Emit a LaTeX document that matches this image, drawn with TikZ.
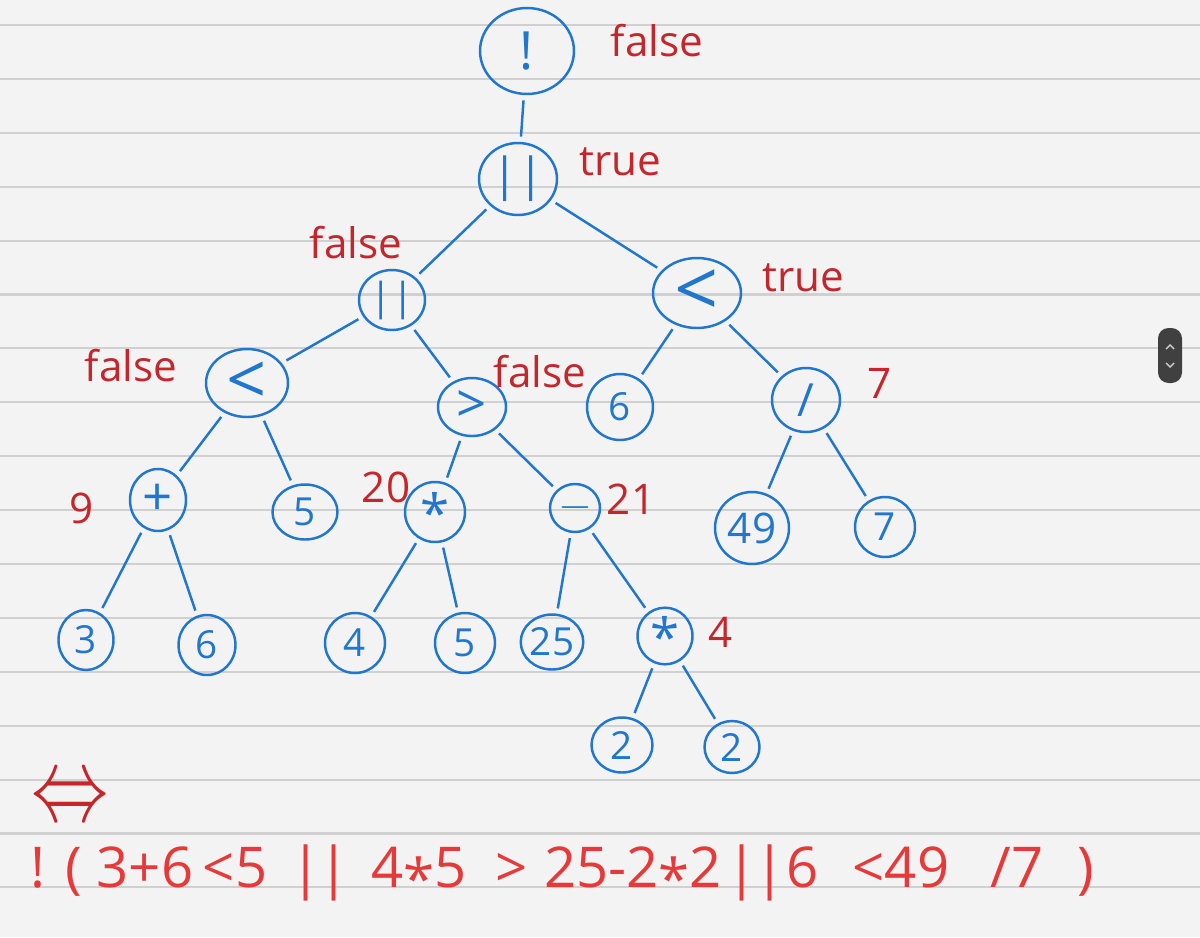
\documentclass[tikz,border=0pt]{standalone}
\usepackage{fontspec}
\setmainfont{Open Sans}
\usetikzlibrary{shapes.geometric}
\definecolor{inkblue}{RGB}{33,118,206}
\definecolor{inkred}{RGB}{196,38,44}
\definecolor{penred}{RGB}{230,58,58}
\definecolor{paper}{RGB}{243,243,243}
\definecolor{rulegray}{RGB}{208,208,208}
\newcommand{\tstar}{\raisebox{-0.22em}{*}}
\newcommand{\bars}{|\kern-0.06em|}

\begin{document}
\begin{tikzpicture}[x=0.02cm, y=-0.02cm,
    tnode/.style = {draw=inkblue, line width=1.4pt, ellipse, inner sep=0pt,
                    minimum width=1.2cm, minimum height=1.2cm, text=inkblue,
                    font=\fontsize{22}{26}\selectfont},
    bigop/.style = {font=\fontsize{#1}{#1}\selectfont},
    val/.style = {text=inkred, font=\fontsize{24}{28}\selectfont},
    expr/.style = {text=penred, anchor=base, font=\fontsize{32}{38}\selectfont},
    link/.style = {draw=inkblue, line width=1.4pt, shorten >=3pt, shorten <=3pt}]
    % paper
    \fill[paper] (0,0) rectangle (1200,937);
    \useasboundingbox (0,0) rectangle (1200,937);
    \foreach \k in {0,...,16}
        \draw[rulegray, line width=1.2pt] (0,{25+53.9*\k}) -- (1200,{25+53.9*\k});
    % tree
    \node[tnode, bigop=30, minimum width=1.88cm, minimum height=1.72cm] (not) at (527,51) {!};
    \node[tnode, bigop=26, minimum width=1.56cm, minimum height=1.44cm] (or1) at (518,179) {||};
    \node[tnode, minimum width=1.32cm, minimum height=1.2cm] (or2) at (392,300) {||};
    \node[tnode, bigop=44, minimum width=1.76cm, minimum height=1.4cm] (lt2) at (697,293) {<};
    \node[tnode, bigop=40, minimum width=1.64cm, minimum height=1.36cm] (lt1) at (247,383) {<};
    \node[tnode, bigop=30, minimum width=1.36cm, minimum height=1.16cm] (gt) at (472,407) {>};
    \node[tnode, minimum width=1.32cm, minimum height=1.32cm] (six) at (620,407) {6};
    \node[tnode, bigop=26, minimum width=1.36cm, minimum height=1.28cm] (div) at (806,400) {/};
    \node[tnode, bigop=30, minimum width=1.12cm, minimum height=1.24cm] (plus) at (158,500) {+};
    \node[tnode, minimum width=1.3cm, minimum height=1.1cm] (five) at (305,512) {5};
    \node[tnode, bigop=30] (mul) at (435,512) {\tstar};
    \node[tnode, bigop=30, minimum width=1cm, minimum height=0.96cm] (minus) at (575,508) {$-$};
    \node[tnode, bigop=24, minimum width=1.48cm, minimum height=1.44cm] (n49) at (752,528) {49};
    \node[tnode] (n7) at (885,527) {7};
    \node[tnode, minimum width=1.1cm] (n3) at (86,640) {3};
    \node[tnode, minimum width=1.14cm] (n6) at (207,645) {6};
    \node[tnode] (n4) at (355,643) {4};
    \node[tnode] (n5) at (465,643) {5};
    \node[tnode, minimum width=1.12cm, minimum height=1.1cm] (n25) at (552,642) {25};
    \node[tnode, bigop=30, minimum width=1.1cm, minimum height=1.1cm] (mul2) at (665,636) {\tstar};
    \node[tnode, minimum width=1.22cm, minimum height=1.1cm] (n2a) at (622,745) {2};
    \node[tnode, minimum width=1.1cm, minimum height=1.04cm] (n2b) at (732,747) {2};
    % values
    \node[val] (vnot) at (657,41) {false};
    \node[val] (vor1) at (620,162) {true};
    \node[val] (vor2) at (356,243) {false};
    \node[val] (vlt2) at (803,278) {true};
    \node[val] (vlt1) at (131,366) {false};
    \node[val] (vgt) at (540,372) {false};
    \node[val] (vdiv) at (880,383) {7};
    \node[val] (vplus) at (82,508) {9};
    \node[val] (vmul) at (386,487) {20};
    \node[val] (vminus) at (631,499) {21};
    \node[val] (vmul2) at (721,632) {4};
    % edges
    \draw[link] (not) -- (or1);
    \draw[link] (or1) -- (or2);
    \draw[link] (or1) -- (lt2);
    \draw[link] (or2) -- (lt1);
    \draw[link] (or2) -- (gt);
    \draw[link] (lt2) -- (six);
    \draw[link] (lt2) -- (div);
    \draw[link] (lt1) -- (plus);
    \draw[link] (lt1) -- (five);
    \draw[link] (gt) -- (mul);
    \draw[link] (gt) -- (minus);
    \draw[link] (div) -- (n49);
    \draw[link] (div) -- (n7);
    \draw[link] (plus) -- (n3);
    \draw[link] (plus) -- (n6);
    \draw[link] (mul) -- (n4);
    \draw[link] (mul) -- (n5);
    \draw[link] (minus) -- (n25);
    \draw[link] (minus) -- (mul2);
    \draw[link] (mul2) -- (n2a);
    \draw[link] (mul2) -- (n2b);
    % expression
    \node[text=inkred] (iff) at (70,801) {\scalebox{4.4}[6]{$\Leftrightarrow$}};
    \foreach \x/\t [count=\i] in {38/!, 74/(, 145/3+6, 235/<5, 320/\bars, 419/4\tstar5,
            512/>, 633/25-2\tstar2, 756/\bars, 803/6, 901/<49, 1017/{/7}, 1086/)}
        \node[expr] (e\i) at (\x,887) {\t};
    % scroll handle
    \fill[black!75, rounded corners=6pt] (1158,328) rectangle (1182,383);
    \draw[black!20, line width=0.8pt] (1166,349) -- (1170,345) -- (1174,349);
    \draw[black!20, line width=0.8pt] (1166,363) -- (1170,367) -- (1174,363);
\end{tikzpicture}
\end{document}
